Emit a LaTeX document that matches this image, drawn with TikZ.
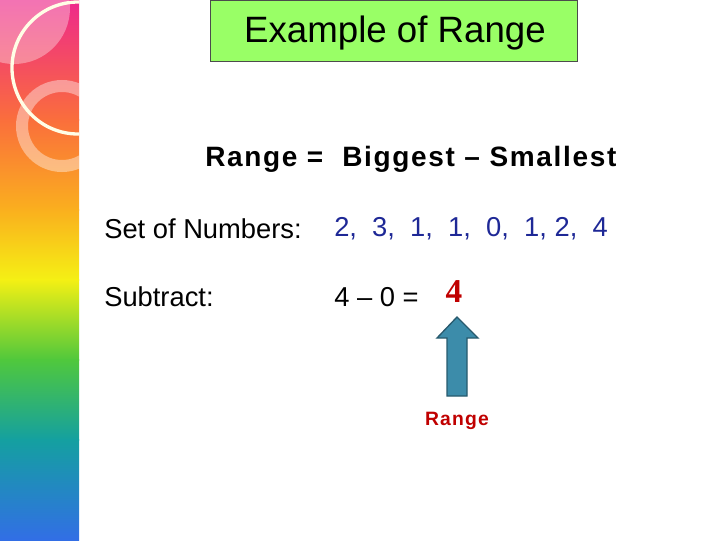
\documentclass[tikz,border=0pt]{standalone}
\usepackage{fontspec}
\setmainfont{Liberation Sans}
\newfontfamily\serifb{Liberation Serif}
\begin{document}
\begin{tikzpicture}[x=0.75pt,y=-0.75pt,
  txt/.style={anchor=west,inner sep=0pt,font=\fontsize{20.5}{24}\selectfont},
  numblue/.style={txt,text={rgb,255:red,30;green,40;blue,150}}]
\useasboundingbox (0,0) rectangle (720,540);
\begin{scope}
\clip (0,0) rectangle (79,540);
\shade[top color={rgb,255:red,238;green,40;blue,140},bottom color={rgb,255:red,250;green,110;blue,60}] (0,-1) rectangle (79,120);
\shade[top color={rgb,255:red,250;green,110;blue,60},bottom color={rgb,255:red,250;green,175;blue,30}] (0,119) rectangle (79,210);
\shade[top color={rgb,255:red,250;green,175;blue,30},bottom color={rgb,255:red,245;green,240;blue,20}] (0,209) rectangle (79,280);
\shade[top color={rgb,255:red,245;green,240;blue,20},bottom color={rgb,255:red,80;green,200;blue,60}] (0,279) rectangle (79,360);
\shade[top color={rgb,255:red,80;green,200;blue,60},bottom color={rgb,255:red,20;green,160;blue,160}] (0,359) rectangle (79,440);
\shade[top color={rgb,255:red,20;green,160;blue,160},bottom color={rgb,255:red,50;green,110;blue,230}] (0,439) rectangle (79,541);
\fill[white,opacity=0.35] (14,8) circle (56);
\draw[line width=9pt,white,opacity=0.4] (62,126) circle (40);
\draw[line width=2.5pt,white!90!yellow] (78,68) circle (66);
\end{scope}
\node[draw=black!70,fill={rgb,255:red,153;green,255;blue,102},minimum width=367*0.75pt,minimum height=61*0.75pt,inner sep=0pt] (title) at (393.5,30.5) {};
\node[inner sep=0pt,font=\fontsize{27.5}{30}\selectfont] (tt) at (395,33) {Example of Range};
\node[txt,font=\bfseries\fontsize{21}{24}\selectfont] (def) at (205,159) {\addfontfeature{LetterSpace=6}Range =\ \ Biggest -- Smallest};
\node[txt] (setl) at (104,229) {Set of Numbers:};
\node[numblue] (nums) at (334,229) {2,\ \ 3,\ \ 1,\ \ 1,\ \ 0,\ \ 1, 2,\ \ 4};
\node[txt] (subl) at (104,297) {Subtract:};
\node[txt] (calc) at (334,297) {4 -- 0 =};
\node[anchor=center,inner sep=0pt,text={rgb,255:red,192;green,0;blue,0},font=\serifb\bfseries\fontsize{25}{27}\selectfont] (four) at (454,292) {4};
\fill[fill={rgb,255:red,60;green,140;blue,170},draw={rgb,255:red,40;green,90;blue,110},line width=1pt]
  (447,396) -- (447,338) -- (437,338) -- (457,317) -- (478,338) -- (467,338) -- (467,396) -- cycle;
\node[anchor=center,inner sep=0pt,text={rgb,255:red,192;green,0;blue,0},font=\bfseries\fontsize{14.5}{16}\selectfont] (rng) at (457,421) {\addfontfeature{LetterSpace=6}Range};
\end{tikzpicture}
\end{document}
